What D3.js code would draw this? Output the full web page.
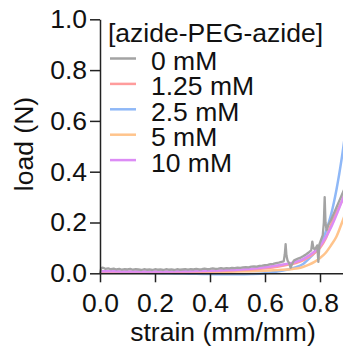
<!DOCTYPE html>
<html>
<head>
<meta charset="utf-8">
<script src="https://cdn.jsdelivr.net/npm/d3@7"></script>
<style>
  body { margin: 0; background: #fff; }
  svg text { font-family: "Liberation Sans", Arial, sans-serif; font-size: 26.5px; fill: #111; }
</style>
</head>
<body>
<svg id="chart" width="343" height="352"></svg>
<script>
// series labels + colours
const seriesNames = ["0 mM", "1.25 mM", "2.5 mM", "5 mM", "10 mM"];
const seriesColors = ["#a3a3a3", "#ff9c9c", "#8fb8f7", "#ffc48c", "#dc8cf5"];
const legendTitle = "[azide-PEG-azide]";

const xTicks = [0, 0.2, 0.4, 0.6, 0.8];
const yTicks = [0, 0.2, 0.4, 0.6, 0.8, 1.0];

// strain grid for the smooth curves
const strainGrid = [0, 0.05, 0.1, 0.15, 0.2, 0.25, 0.3, 0.35, 0.4, 0.45, 0.5, 0.55, 0.6, 0.65, 0.7,
                    0.72, 0.74, 0.76, 0.78, 0.8, 0.82, 0.84, 0.86, 0.88, 0.9];
const load125 = [0.006, 0.007, 0.006, 0.006, 0.006, 0.006, 0.006, 0.007, 0.008, 0.01, 0.012, 0.015, 0.02, 0.027, 0.037,
                 0.043, 0.052, 0.064, 0.08, 0.1, 0.135, 0.19, 0.24, 0.285, 0.34];
const load25 = [0.003, 0.003, 0.002, 0.002, 0.001, 0.0, -0.001, -0.002, -0.003, -0.004, -0.004, -0.003, 0.0, 0.008, 0.02,
                0.027, 0.038, 0.058, 0.08, 0.11, 0.16, 0.23, 0.33, 0.46, 0.62];
const load5 = [0.004, 0.004, 0.004, 0.004, 0.004, 0.004, 0.004, 0.004, 0.005, 0.006, 0.007, 0.008, 0.01, 0.013, 0.017,
               0.02, 0.026, 0.034, 0.045, 0.06, 0.08, 0.11, 0.145, 0.2, 0.26];
const load10 = [0.008, 0.008, 0.007, 0.007, 0.007, 0.007, 0.008, 0.009, 0.01, 0.012, 0.014, 0.018, 0.024, 0.032, 0.042,
                0.048, 0.057, 0.07, 0.086, 0.108, 0.14, 0.18, 0.23, 0.285, 0.34];

// 0 mM trace (raw, noisy)
const strain0 = [0, 0.004, 0.008, 0.015, 0.02, 0.03, 0.04, 0.05, 0.06, 0.07, 0.08, 0.09, 0.1, 0.11, 0.12, 0.13, 0.14,
  0.15, 0.16, 0.17, 0.18, 0.19, 0.2, 0.21, 0.22, 0.23, 0.24, 0.25, 0.26, 0.27, 0.28, 0.29, 0.3, 0.31, 0.32, 0.33,
  0.34, 0.35, 0.36, 0.37, 0.38, 0.39, 0.4, 0.41, 0.42, 0.43, 0.44, 0.45, 0.46, 0.47, 0.48, 0.49, 0.5, 0.51, 0.52,
  0.53, 0.54, 0.55, 0.56, 0.57, 0.58, 0.59, 0.6, 0.61, 0.62, 0.63, 0.64, 0.65, 0.66, 0.668, 0.672, 0.675, 0.678,
  0.682, 0.688, 0.693, 0.698, 0.705, 0.71, 0.72, 0.73, 0.74, 0.75, 0.76, 0.768, 0.772, 0.776, 0.78, 0.785, 0.79,
  0.794, 0.798, 0.803, 0.81, 0.814, 0.817, 0.82, 0.824, 0.83, 0.84, 0.85, 0.86, 0.87, 0.88, 0.89];
const load0 = [0, 0.018, 0.022, 0.02, 0.017, 0.019, 0.016, 0.018, 0.015, 0.017, 0.014, 0.016, 0.015, 0.017, 0.014,
  0.016, 0.015, 0.013, 0.016, 0.014, 0.015, 0.013, 0.016, 0.014, 0.015, 0.013, 0.016, 0.014, 0.015, 0.013, 0.016,
  0.014, 0.015, 0.016, 0.014, 0.016, 0.015, 0.017, 0.015, 0.016, 0.018, 0.016, 0.017, 0.019, 0.017, 0.018, 0.02,
  0.018, 0.02, 0.019, 0.021, 0.02, 0.022, 0.021, 0.023, 0.024, 0.023, 0.026, 0.027, 0.026, 0.029, 0.03, 0.032,
  0.033, 0.036, 0.037, 0.04, 0.042, 0.045, 0.047, 0.075, 0.115, 0.07, 0.05, 0.04, 0.022, 0.035, 0.05, 0.053,
  0.058, 0.062, 0.068, 0.075, 0.083, 0.09, 0.125, 0.1, 0.095, 0.1, 0.11, 0.045, 0.115, 0.13, 0.15, 0.2, 0.3,
  0.2, 0.17, 0.19, 0.21, 0.235, 0.26, 0.285, 0.31, 0.335];

const svg = d3.select("#chart");

const x = d3.scaleLinear().domain([0, 0.9]).range([100, 347.5]);
const y = d3.scaleLinear().domain([0, 1]).range([273.3, 19.3]);

const line = d3.line()
    .x(d => x(d[0]))
    .y(d => y(d[1]))
    .curve(d3.curveMonotoneX);

const rawLine = d3.line()
    .x(d => x(d[0]))
    .y(d => y(d[1]));

const smooth = [load125, load25, load5, load10];
const order = [2, 3, 1, 4]; // draw order, 0 mM goes last
order.forEach(i => {
    const vals = smooth[i - 1];
    svg.append("path")
        .datum(strainGrid.map((s, k) => [s, vals[k]]))
        .attr("fill", "none")
        .attr("stroke", seriesColors[i])
        .attr("stroke-width", 2.5)
        .attr("d", line);
});

svg.append("path")
    .datum(strain0.map((s, k) => [s, load0[k]]))
    .attr("fill", "none")
    .attr("stroke", seriesColors[0])
    .attr("stroke-width", 2.3)
    .attr("stroke-linejoin", "round")
    .attr("d", rawLine);

// axes
const xAxis = svg.append("g")
    .attr("transform", "translate(0," + y(0) + ")")
    .call(d3.axisBottom(x).tickValues(xTicks).tickFormat(d3.format(".1f"))
        .tickSize(9).tickSizeOuter(0).tickPadding(11));

const yAxis = svg.append("g")
    .attr("transform", "translate(" + x(0) + ",0)")
    .call(d3.axisLeft(y).tickValues(yTicks).tickFormat(d3.format(".1f"))
        .tickSize(10).tickSizeOuter(0).tickPadding(3));

[xAxis, yAxis].forEach(a => {
    a.select(".domain").attr("stroke", "#222").attr("stroke-width", 1.5);
    a.selectAll(".tick line").attr("stroke", "#222").attr("stroke-width", 1.5);
    a.selectAll("text").attr("font-size", null).attr("font-family", null).attr("fill", "#111");
});

// axis titles
svg.append("text")
    .attr("x", 223).attr("y", 341)
    .attr("text-anchor", "middle")
    .text("strain (mm/mm)");

svg.append("text")
    .attr("transform", "translate(33,144) rotate(-90)")
    .attr("text-anchor", "middle")
    .text("load (N)");

// legend
const legend = svg.append("g");
legend.append("text").attr("x", 108).attr("y", 42).text(legendTitle);

seriesNames.forEach((name, i) => {
    const ly = 58.5 + i * 25.4;
    legend.append("line")
        .attr("x1", 110).attr("x2", 136)
        .attr("y1", ly).attr("y2", ly)
        .attr("stroke", seriesColors[i])
        .attr("stroke-width", 2.5);
    legend.append("text")
        .attr("x", 151).attr("y", ly + 11.5)
        .text(name);
});
</script>
</body>
</html>
